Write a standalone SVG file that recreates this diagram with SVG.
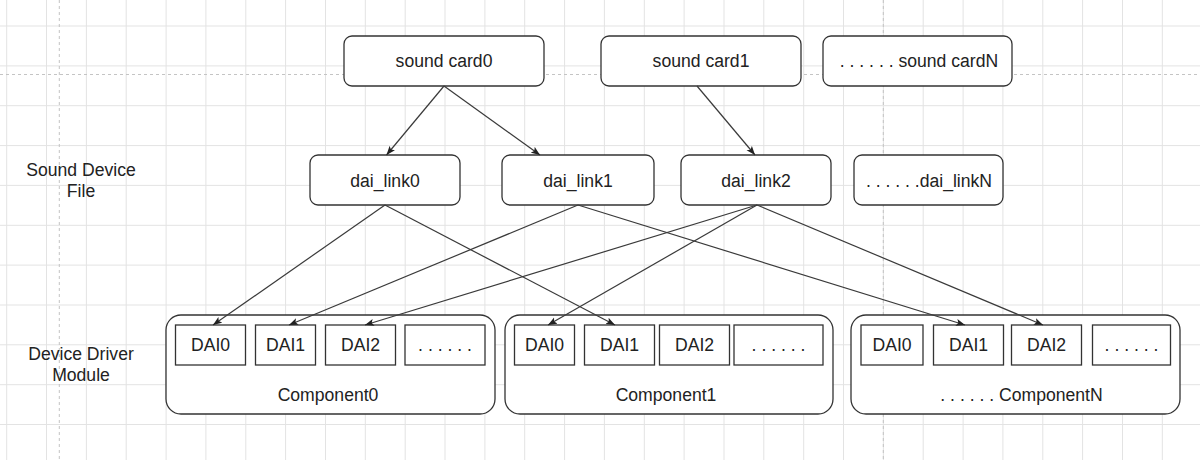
<svg xmlns="http://www.w3.org/2000/svg" width="1200" height="460" viewBox="0 0 1200 460">
<defs>
<style>
.grid line{stroke:#e3e3e3;stroke-width:1}
.dash{stroke:#c4c4c4;stroke-width:1;stroke-dasharray:3 3}
.box{fill:#fff;stroke:#333;stroke-width:1.3}
.dai{fill:#fff;stroke:#333;stroke-width:1.3}
.t{font-family:"Liberation Sans",Arial,sans-serif;font-size:17.6px;fill:#222;text-anchor:middle}
.edge{stroke:#3a3a3a;stroke-width:1.2;fill:none;marker-end:url(#arr)}
</style>
<marker id="arr" markerUnits="userSpaceOnUse" markerWidth="10" markerHeight="8" refX="9" refY="4" orient="auto">
<path d="M0,0.5 L9,4 L0,7.5 L2,4 z" fill="#222"/>
</marker>
</defs>
<rect width="1200" height="460" fill="#fff"/>
<g class="grid">
<line x1="6.7" y1="0" x2="6.7" y2="460"/><line x1="46.5" y1="0" x2="46.5" y2="460"/><line x1="86.4" y1="0" x2="86.4" y2="460"/><line x1="126.2" y1="0" x2="126.2" y2="460"/><line x1="166.1" y1="0" x2="166.1" y2="460"/><line x1="205.9" y1="0" x2="205.9" y2="460"/><line x1="245.8" y1="0" x2="245.8" y2="460"/><line x1="285.6" y1="0" x2="285.6" y2="460"/><line x1="325.5" y1="0" x2="325.5" y2="460"/><line x1="365.3" y1="0" x2="365.3" y2="460"/><line x1="405.2" y1="0" x2="405.2" y2="460"/><line x1="445" y1="0" x2="445" y2="460"/><line x1="484.9" y1="0" x2="484.9" y2="460"/><line x1="524.7" y1="0" x2="524.7" y2="460"/><line x1="564.6" y1="0" x2="564.6" y2="460"/><line x1="604.4" y1="0" x2="604.4" y2="460"/><line x1="644.3" y1="0" x2="644.3" y2="460"/><line x1="684.1" y1="0" x2="684.1" y2="460"/><line x1="724" y1="0" x2="724" y2="460"/><line x1="763.8" y1="0" x2="763.8" y2="460"/><line x1="803.7" y1="0" x2="803.7" y2="460"/><line x1="843.5" y1="0" x2="843.5" y2="460"/><line x1="883.4" y1="0" x2="883.4" y2="460"/><line x1="923.2" y1="0" x2="923.2" y2="460"/><line x1="963.1" y1="0" x2="963.1" y2="460"/><line x1="1002.9" y1="0" x2="1002.9" y2="460"/><line x1="1042.8" y1="0" x2="1042.8" y2="460"/><line x1="1082.6" y1="0" x2="1082.6" y2="460"/><line x1="1122.5" y1="0" x2="1122.5" y2="460"/><line x1="1162.3" y1="0" x2="1162.3" y2="460"/>
<line x1="0" y1="26" x2="1200" y2="26"/><line x1="0" y1="65.9" x2="1200" y2="65.9"/><line x1="0" y1="105.7" x2="1200" y2="105.7"/><line x1="0" y1="145.6" x2="1200" y2="145.6"/><line x1="0" y1="185.4" x2="1200" y2="185.4"/><line x1="0" y1="225.3" x2="1200" y2="225.3"/><line x1="0" y1="265.1" x2="1200" y2="265.1"/><line x1="0" y1="305" x2="1200" y2="305"/><line x1="0" y1="344.8" x2="1200" y2="344.8"/><line x1="0" y1="384.7" x2="1200" y2="384.7"/><line x1="0" y1="424.5" x2="1200" y2="424.5"/>
</g>
<line class="dash" x1="0" y1="74.5" x2="1200" y2="74.5"/>
<line class="dash" x1="59.3" y1="0" x2="59.3" y2="460"/>
<line class="dash" x1="883.3" y1="0" x2="883.3" y2="460"/>

<g id="labels">
<text class="t" x="81" y="176">Sound Device</text>
<text class="t" x="81" y="196.5">File</text>
<text class="t" x="81" y="360">Device Driver</text>
<text class="t" x="81" y="381">Module</text>
</g>

<g id="soundcard0"><rect class="box" x="344" y="36" width="200" height="50" rx="8"/><text class="t" x="444" y="67">sound card0</text></g>
<g id="soundcard1"><rect class="box" x="601" y="36" width="200" height="50" rx="8"/><text class="t" x="701" y="67">sound card1</text></g>
<g id="soundcardN"><rect class="box" x="823" y="36" width="189" height="50" rx="8"/><text class="t" x="919" y="67">. . . . . . sound cardN</text></g>

<g id="dai_link0"><rect class="box" x="310" y="155" width="150" height="50" rx="8"/><text class="t" x="385" y="186.5">dai_link0</text></g>
<g id="dai_link1"><rect class="box" x="502" y="155" width="152" height="50" rx="8"/><text class="t" x="578" y="186.5">dai_link1</text></g>
<g id="dai_link2"><rect class="box" x="681" y="155" width="150" height="50" rx="8"/><text class="t" x="756" y="186.5">dai_link2</text></g>
<g id="dai_linkN"><rect class="box" x="854" y="155" width="149" height="50" rx="8"/><text class="t" x="929" y="186.5">. . . . . .dai_linkN</text></g>

<g id="component0">
<rect class="box" x="166" y="315" width="329" height="99" rx="15"/>
<rect class="dai" x="175.5" y="325" width="70" height="40"/><text class="t" x="210.5" y="351">DAI0</text>
<rect class="dai" x="255.5" y="325" width="60" height="40"/><text class="t" x="285.5" y="351">DAI1</text>
<rect class="dai" x="325.5" y="325" width="70" height="40"/><text class="t" x="360.5" y="351">DAI2</text>
<rect class="dai" x="405" y="325" width="80" height="40"/><text class="t" x="445" y="351">. . . . . .</text>
<text class="t" x="328" y="400.5">Component0</text>
</g>
<g id="component1">
<rect class="box" x="505" y="315" width="328" height="99" rx="15"/>
<rect class="dai" x="514.5" y="325" width="60" height="40"/><text class="t" x="544.5" y="351">DAI0</text>
<rect class="dai" x="584.5" y="325" width="70" height="40"/><text class="t" x="619.5" y="351">DAI1</text>
<rect class="dai" x="659.5" y="325" width="70" height="40"/><text class="t" x="694.5" y="351">DAI2</text>
<rect class="dai" x="734" y="325" width="89" height="40"/><text class="t" x="778.5" y="351">. . . . . .</text>
<text class="t" x="666" y="400.5">Component1</text>
</g>
<g id="componentN">
<rect class="box" x="851" y="315" width="329" height="99" rx="15"/>
<rect class="dai" x="861" y="325" width="62" height="40"/><text class="t" x="892" y="351">DAI0</text>
<rect class="dai" x="933.5" y="325" width="70" height="40"/><text class="t" x="968.5" y="351">DAI1</text>
<rect class="dai" x="1011.5" y="325" width="70" height="40"/><text class="t" x="1046.5" y="351">DAI2</text>
<rect class="dai" x="1092.5" y="325" width="78" height="40"/><text class="t" x="1131.5" y="351">. . . . . .</text>
<text class="t" x="1021.5" y="400.5">. . . . . . ComponentN</text>
</g>

<g id="connectors">
<line class="edge" x1="444" y1="86" x2="386.5" y2="155"/>
<line class="edge" x1="444" y1="86" x2="540" y2="155"/>
<line class="edge" x1="697" y1="86" x2="755" y2="155"/>
<line class="edge" x1="385" y1="205" x2="213" y2="325"/>
<line class="edge" x1="385" y1="205" x2="615" y2="325"/>
<line class="edge" x1="578" y1="205" x2="289" y2="325"/>
<line class="edge" x1="578" y1="205" x2="965" y2="325"/>
<line class="edge" x1="757" y1="205" x2="365" y2="325"/>
<line class="edge" x1="757" y1="205" x2="548" y2="325"/>
<line class="edge" x1="757" y1="205" x2="1043" y2="325"/>
</g>
</svg>
